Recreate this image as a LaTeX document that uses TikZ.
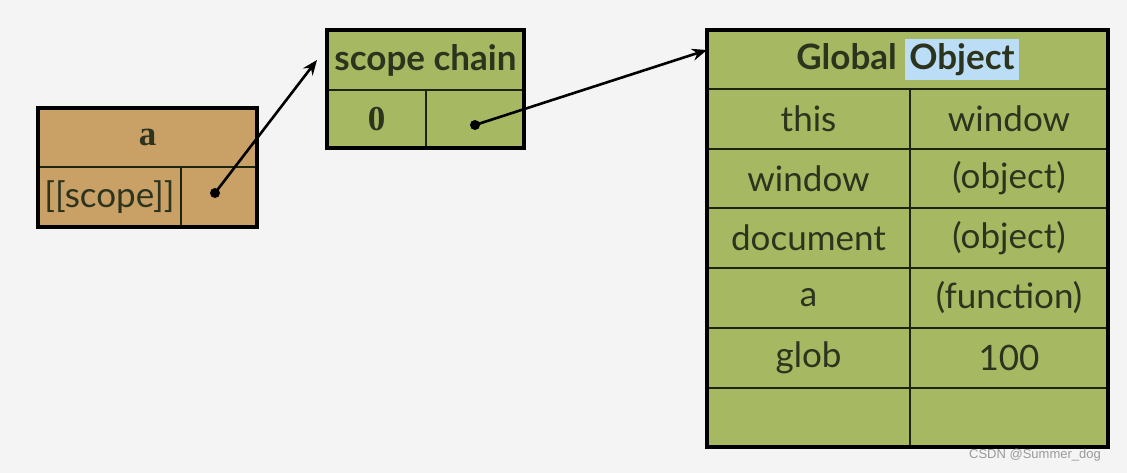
\documentclass[tikz,border=0pt]{standalone}
\usepackage{fontspec}
\setmainfont{Lato}
\newfontfamily\serifbold{Liberation Serif}[UprightFont=*-Bold]
\newfontfamily\marksans{Liberation Sans}
\usetikzlibrary{positioning,arrows.meta}

\definecolor{pagebg}{RGB}{244,244,244}
\definecolor{cellgreen}{RGB}{166,184,98}
\definecolor{celltan}{RGB}{201,161,102}
\definecolor{celline}{RGB}{30,36,18}
\definecolor{inktext}{RGB}{44,52,30}
\definecolor{selblue}{RGB}{187,221,245}

\newcommand{\bodyfont}{\fontsize{35}{35}\selectfont}
\newcommand{\headfont}{\fontsize{35}{35}\selectfont\bfseries}

\tikzset{
  cell/.style={draw=celline, line width=2pt, inner sep=0pt, outer sep=0pt,
               anchor=north west, text=inktext, font=\bodyfont},
  greencell/.style={cell, fill=cellgreen},
  tancell/.style={cell, fill=celltan},
  frame/.style={draw=black, line width=3.5pt},
  dot/.style={circle, fill=black, inner sep=0pt, minimum size=10pt},
  link/.style={-{Stealth[length=15pt,width=12pt]}, line width=2.6pt}
}

\begin{document}
\begin{tikzpicture}[x=1pt, y=-1pt]

   % --- Background ---
   \fill[pagebg] (0,0) rectangle (1127,473);
   \useasboundingbox (0,0) rectangle (1127,473);

   % --- Function a (left) ---
   \node[tancell, minimum width=219pt, minimum height=59pt] (ahead) at (38,108)
        {\serifbold\bfseries a};
   \node[tancell, minimum width=143pt, minimum height=60pt] (ascope) at (ahead.south west)
        {[[scope]]};
   \node[tancell, minimum width=76pt, minimum height=60pt] (aptr) at (ascope.north east) {};
   \draw[frame] (ahead.north west) rectangle (aptr.south east);

   % --- Scope chain (middle) ---
   \node[greencell, minimum width=197pt, minimum height=60pt, font=\headfont] (chain) at (327,30)
        {scope chain};
   \node[greencell, minimum width=99pt, minimum height=58pt] (chainidx) at (chain.south west)
        {\serifbold\bfseries 0};
   \node[greencell, minimum width=98pt, minimum height=58pt] (chainptr) at (chainidx.north east) {};
   \draw[frame] (chain.north west) rectangle (chainptr.south east);

   % --- Global Object (right) ---
   \node[greencell, minimum width=401pt, minimum height=59pt, font=\headfont] (gtitle) at (707,30)
        {Global {\setlength{\fboxsep}{4pt}\colorbox{selblue}{Object}}};
   \foreach \k/\v [count=\i] in {this/window, window/{(object)}, document/{(object)},
                                 a/{(function)}, glob/100, {}/{}}{
      \node[greencell, minimum width=203pt, minimum height=59.7pt] (gk\i)
           at (707, {89+(\i-1)*59.7}) {\k};
      \node[greencell, minimum width=198pt, minimum height=59.7pt] (gv\i)
           at (gk\i.north east) {\v};
   }
   \draw[frame] (gtitle.north west) rectangle (gv6.south east);

   % --- Pointers ---
   \node[dot] (adot) at (215,193) {};
   \node[dot] (chaindot) at (475,125) {};
   \coordinate (chainin) at ([xshift=-10pt]chain.west);
   \coordinate (globin) at ([yshift=9.5pt]gtitle.west);
   \draw[link] (adot.center) -- (chainin);
   \draw[link] (chaindot.center) -- (globin);

   % --- Watermark text ---
   \node[text=black!40, font=\marksans\fontsize{13}{13}\selectfont] (csdn) at (1035,455)
        {CSDN @Summer\_dog};

\end{tikzpicture}
\end{document}
